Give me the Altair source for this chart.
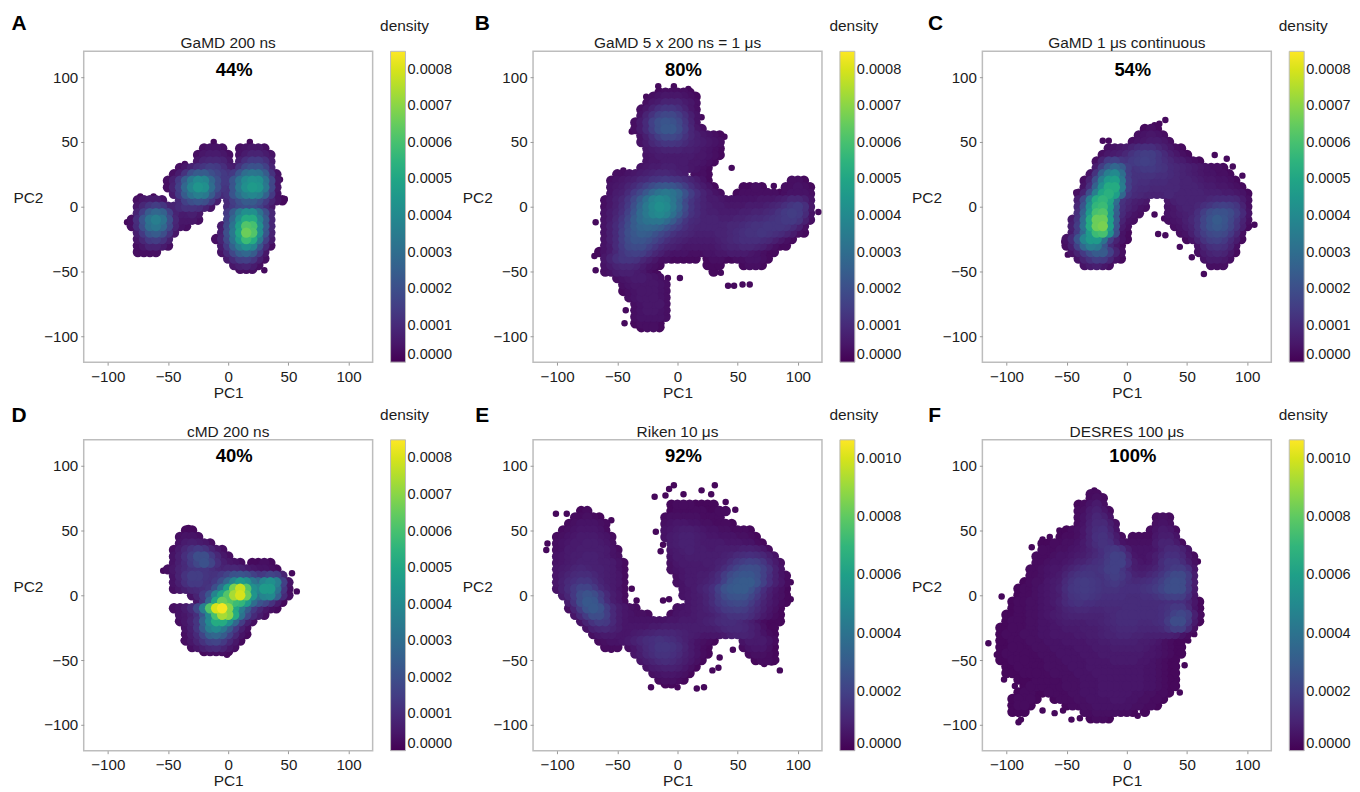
import altair as alt
import pandas as pd

# Densities are in units of 1e-5, read by eye. Each row: (PC2, first PC1, values at 5-unit PC1 steps)
A_ROWS = [
 (45,-20,[3,4,4,3]),(45,10,[3,4,5,5,3]),
 (40,-25,[3,5,6,6,5,3]),(40,10,[4,6,8,8,6,4]),
 (35,-25,[5,8,9,9,8,5]),(35,10,[7,11,14,14,11,6]),
 (30,-40,[3,5,8,11,13,15,14,11,7]),(30,5,[6,12,18,21,21,16,8]),
 (25,-45,[3,6,12,20,24,24,20,17,14,12,14,22,30,33,32,24,12,4]),
 (20,-50,[3,7,14,24,34,40,38,28,20,14,14,22,32,40,43,42,32,18,5]),
 (15,-50,[3,8,16,28,38,44,42,30,20,13,12,22,34,42,46,44,34,18,5]),
 (10,-45,[6,14,24,32,36,34,24,15,10,12,22,30,36,39,36,26,14,4]),
 (5,-75,[3,5,6,6,4]),(5,-40,[9,16,20,22,20,14,7]),(5,0,[10,15,20,24,24,20,14,8,4,2]),
 (0,-75,[5,9,13,15,13,8,8,10,12,12,11,8,4]),(0,0,[10,14,18,20,20,16,10,5]),
 (-5,-75,[8,15,24,28,26,16,8,6,6,7,5]),(-5,0,[14,24,35,42,42,32,20,9]),
 (-10,-80,[3,11,22,32,36,32,20,9,5,5,5,3]),(-10,0,[16,28,42,52,52,38,24,9]),
 (-15,-80,[3,10,20,30,33,28,18,8,4,3]),(-15,-5,[6,18,32,48,62,60,42,24,9]),
 (-20,-75,[7,14,22,24,20,12,5]),(-20,-5,[7,20,34,50,66,62,42,22,8]),
 (-25,-75,[5,9,14,15,12,7]),(-25,-10,[3,8,18,32,46,58,52,34,16,6]),
 (-30,-75,[3,5,8,8,6,3]),(-30,-5,[6,14,26,36,42,38,22,10,3]),
 (-35,-75,[3,3,3,3]),(-35,-5,[4,10,18,25,28,24,14,5]),
 (-40,0,[6,10,15,16,13,7,3]),(-45,5,[5,7,8,6,3]),(-48,10,[3,3,3]),
]
A_STRAY = [(-76,-34,2),(47,6,2),(-84,-12,2),(-12,50,2),(-62,8,2),(-73,8,2),(-36,33,2),(43,21,2),(30,-49,2),(18,50,2)]

B_ROWS = [
 (88,-15,[2,3,3,3,3,2]),(85,-20,[3,4,5,5,5,4,3,2]),(80,-25,[3,5,6,8,8,8,6,5,3]),
 (75,-30,[3,5,8,11,13,13,11,8,5,3]),(70,-30,[4,8,12,16,18,18,15,11,7,4]),
 (65,-35,[3,6,10,16,20,22,21,18,13,8,4]),(60,-35,[3,6,10,15,20,23,23,19,14,9,5,3]),
 (55,-30,[4,7,11,15,18,18,16,12,9,7,5,4,3,2]),(50,-30,[4,6,9,11,13,13,12,10,8,7,6,5,4,3]),
 (45,-25,[5,6,7,8,8,8,7,7,6,5,4,3,2]),(40,-25,[4,5,6,6,6,6,6,6,5,5,4,3,2]),
 (35,-25,[4,5,5,6,6,6,6,5,5,4,3,2]),(30,-30,[4,5,6,6,7,7,6,6,5,4,3,2]),
 (25,-50,[3,3,4]),(25,-35,[5,6,7,8,9,9,8,7,6]),(25,15,[3,3,2]),
 (20,-55,[3,4,5,6,7,9,10,12,13,14,13,12,10,8,6,4,2]),(20,95,[3,3,2]),
 (15,-55,[4,5,6,8,10,13,16,19,22,23,22,19,15,11,8,6,4,2]),(15,55,[2,2,3,2]),(15,90,[3,3,4,3,2]),
 (10,-55,[4,6,7,10,14,18,23,28,32,34,32,28,21,15,11,8,6,4,3]),(10,50,[2,3,3,3,3,3,3,2,3,4,4,4,3]),
 (5,-60,[3,5,7,9,13,18,24,31,37,40,38,33,26,18,13,10,8,6,6,5,4,4,4,4,4,4,5,5,5,6,7,9,9,7,4]),
 (0,-60,[3,5,7,10,14,20,27,34,39,42,40,34,27,19,13,10,8,7,6,6,5,5,5,5,6,6,6,7,8,9,11,13,14,11,5]),
 (-5,-60,[4,6,8,11,16,22,29,34,38,40,37,31,24,17,12,10,8,7,7,6,6,6,6,7,7,8,8,9,10,12,14,15,14,10,4]),
 (-10,-60,[4,6,9,13,18,24,29,32,33,33,29,24,18,13,10,9,8,8,8,7,7,7,8,8,9,10,10,11,12,13,14,14,12,7,3]),
 (-15,-60,[4,7,10,14,19,24,27,28,27,25,21,17,14,11,9,8,8,8,8,8,8,9,9,10,11,12,12,13,13,13,12,10,7,3]),
 (-20,-60,[4,7,10,15,20,23,25,24,21,18,15,12,10,9,8,7,7,7,7,8,8,9,10,11,12,12,13,12,11,10,8,6,3,2]),
 (-25,-60,[4,7,10,15,19,22,22,20,17,14,11,9,8,7,6,6,6,6,6,7,8,9,10,11,11,11,10,9,7,5,3,2]),
 (-30,-60,[4,6,10,14,18,19,19,16,13,10,8,7,6,5,5,5,5,5,5,6,7,8,8,9,9,8,7,5,3,2,2]),
 (-35,-65,[2,4,6,9,13,15,16,15,12,9,7,5,4,4,4,3,3,3,4,4,5,5,6,6,6,5,4,3,2,2]),
 (-40,-60,[5,8,11,13,13,12,9,7,5,3,3,2]),(-40,0,[2,2,2,2]),(-40,25,[2,3,3,2,2]),(-40,50,[3,3,4,4,3,2]),
 (-45,-60,[4,6,8,9,9,8,6,4,3,2]),(-45,25,[2,2,2]),(-45,55,[2,3,3,2]),
 (-50,-60,[3,4,6,7,7,6,5,3,2]),(-50,30,[2]),(-55,-50,[3,4,5,6,6,5,4,3]),
 (-60,-45,[3,4,5,5,5,5,4,3]),(-65,-45,[2,3,4,5,5,5,4,3]),(-70,-40,[3,4,5,5,5,4,3]),
 (-75,-35,[3,4,5,5,5,3]),(-80,-35,[3,4,5,5,4,3]),(-85,-35,[3,4,4,4,4,3]),
 (-90,-35,[2,3,3,3,2]),(-93,-30,[2,3,3,2]),
]
B_STRAY = [(-69,-38,2),(-68,-49,2),(-68,-12,2),(45,30,2),(42,-61,2),(47,-61,2),(54,-60,2),(60,-60,2),
 (-26,85,2),(-16,93,2),(-3,93,2),(9,91,2),(20,69,2),(39,54,2),(-38,58,2),(117,-4,2),(-43,-80,2),(-44,-90,2),
 (-16,-52,2),(-8,-55,2),(2,-55,2),(80,16,2),(75,12,2),(36,-51,2),(-45,28,2)]

C_ROWS = [
 (55,10,[3,4,5,4,3]),(60,15,[2,3,2]),(50,5,[3,4,5,6,6,5,3]),
 (45,-15,[3,4,5,6,8,10,11,11,9,7,5,3,2]),
 (40,-20,[3,5,6,7,9,12,14,15,15,13,10,7,5,3,2]),
 (35,-25,[3,8,14,16,13,12,14,15,16,15,13,11,9,7,6,4,3,2]),
 (30,-25,[6,15,23,28,24,15,12,13,14,14,13,12,10,9,8,7,6,5,4,3,3,2]),
 (25,-30,[4,12,26,36,40,30,15,12,12,12,12,11,11,10,9,8,7,6,5,4,4,3,3,2]),
 (20,-35,[3,8,20,36,46,48,34,16,12,11,11,10,10,10,9,9,8,8,7,6,5,5,4,4,3,2]),
 (15,-35,[4,11,26,42,52,52,36,16,11,10,10,9,9,9,9,9,8,8,8,7,6,6,5,5,4,3,2]),
 (10,-40,[3,8,20,36,50,54,48,28,13,10,9,8,8,8,8,9,8,8,8,8,8,7,7,7,6,6,5,4,2]),
 (5,-40,[7,18,36,52,56,50,30,12,9,7,6,5]),(5,35,[5,7,8,8,8,8,8,9,10,10,10,9,6,3]),
 (0,-40,[9,22,42,56,58,48,26,11,8,6,4,3]),(0,35,[4,5,7,8,8,9,11,13,15,16,15,13,8,3]),
 (-5,-40,[11,26,46,60,62,46,24,10,6,4,3]),(-5,35,[4,5,6,7,8,11,15,19,21,21,19,15,10,4]),
 (-10,-45,[6,13,30,52,66,66,48,24,8,4,3]),(-10,35,[3,4,5,7,9,12,17,21,24,22,18,13,8,3]),
 (-15,-45,[7,15,32,52,66,68,48,22,6,3]),(-15,40,[3,4,6,8,12,17,21,23,21,17,12,7,2]),
 (-20,-45,[6,14,28,46,58,60,42,20,4,2]),(-20,45,[3,4,7,11,15,18,19,18,14,9,3]),
 (-25,-50,[4,10,22,38,46,46,32,16,8,4,2]),(-25,50,[2,4,8,12,15,16,14,10,6,2]),
 (-30,-50,[3,7,16,28,36,34,22,10,5,2]),(-30,60,[4,8,11,12,11,8,3]),
 (-35,-45,[4,8,14,20,24,24,16,8,3]),(-35,60,[3,6,8,9,8,5,2]),
 (-40,-40,[4,8,12,15,14,9,4,2]),(-40,65,[4,6,6,5,3]),
 (-45,-35,[4,6,7,5,3]),(-45,70,[3,3,3]),
]
C_STRAY = [(-52,-27,2),(-49,-37,2),(-14,-44,2),(32,67,2),(27,64,2),(23,63,2),(73,40,2),(83,37,2),(88,31,2),
 (106,-14,2),(64,-52,2),(54,-39,2),(44,-31,2),(26,-21,2),(31,-9,2),(23,-6,2),(32,-22,2),(-20,51,2),(-15,51,2),(96,24,2),(-42,11,2)]

D_ROWS = [
 (50,-35,[2,2]),(45,-40,[3,4,4,3]),(40,-40,[4,6,7,6,5,3]),
 (35,-45,[3,6,9,12,14,12,8,5,3]),(30,-45,[4,7,11,15,20,20,14,9,5,3]),
 (25,-45,[4,7,10,14,18,21,17,11,7,5,4,3]),(25,20,[2,2,3,2]),
 (20,-50,[3,5,8,10,12,13,13,11,9,8,9,9,8,6,5,4,4,3,2]),
 (15,-45,[4,8,12,15,15,13,12,12,14,17,21,22,20,16,13,14,17,15,8]),
 (10,-45,[4,7,11,14,14,12,11,14,20,28,38,46,42,33,28,38,42,36,16,4]),
 (5,-45,[3,5,7,9,10,11,13,20,32,48,68,78,62,42,38,46,46,32,13,3]),
 (0,-30,[4,8,14,22,38,50,62,74,80,66,44,32,38,40,26,10,3]),
 (-5,-25,[5,12,28,50,66,62,58,56,46,30,22,18,12,6,2]),
 (-10,-45,[3,4,6,10,18,36,62,80,84,70,50,36,24,14,9,5,3,2]),
 (-15,-40,[4,5,7,11,22,40,60,74,70,52,32,18,10,6,3]),
 (-20,-40,[3,5,8,13,26,40,52,52,42,28,15,7,3]),
 (-25,-35,[4,7,13,24,36,40,34,24,14,7,3]),
 (-30,-35,[3,6,10,17,26,28,24,16,9,4,2]),
 (-35,-35,[3,5,8,12,16,17,14,9,5,2]),
 (-40,-30,[3,5,7,9,10,8,5,3]),(-43,-20,[2,3,3,3,2]),
]
D_STRAY = [(-54,19,2),(53,17,2),(57,3,2),(-33,52,2),(-1,-46,2),(-37,-35,2)]

E_ROWS = [
 (70,-5,[2,3,3,3,2]),(70,20,[2,2,2]),
 (65,-80,[2,3]),(65,-5,[2,3,3,3,3,3,2,2,3,3]),(60,-85,[3,3,4,3,2]),(60,-10,[3,4,4,4,4,4,3,3,3,3]),
 (55,-90,[3,4,5,5,5,4,3]),(55,-10,[4,5,6,6,5,5,4,4,3,3,3,2]),
 (50,-95,[3,4,5,6,6,6,5,3]),(50,-10,[5,6,7,8,8,7,6,5,5,4,4,3,3,3,2]),
 (45,-100,[3,4,5,6,7,7,7,6,5,3]),(45,-10,[5,7,8,9,9,8,7,6,6,5,5,5,4,4,3,2]),
 (40,-100,[4,5,6,7,7,8,8,7,6,4]),(40,-5,[7,8,9,9,8,7,7,7,7,6,6,6,5,5,3,2]),
 (35,-100,[4,5,7,7,8,8,8,8,7,5,3]),(35,-5,[6,7,8,9,8,8,7,7,8,8,8,8,9,9,8,6,3]),
 (30,-100,[5,6,7,8,8,9,9,8,7,5,4]),(30,-5,[5,7,7,8,8,8,8,8,8,9,10,12,13,14,13,11,8,5]),
 (25,-100,[5,6,7,8,9,9,9,8,8,7,5,3]),(25,-5,[4,6,7,7,7,7,8,8,9,10,13,16,18,20,19,16,11,7,4]),
 (20,-100,[6,7,8,10,11,10,9,9,8,7,5,3]),(20,-5,[4,5,6,7,7,7,7,8,10,13,17,21,24,25,24,20,15,9,5]),
 (15,-100,[6,8,10,12,13,13,11,9,8,7,6,3]),(15,0,[4,6,7,7,8,8,10,13,18,23,26,28,28,25,20,14,9,5,3]),
 (10,-100,[6,9,12,14,16,16,13,10,8,7,6,3]),(10,0,[4,5,7,7,8,9,11,14,20,26,29,30,30,26,20,14,9,6,3]),
 (5,-100,[5,9,13,17,21,21,17,12,9,7,5,3]),(5,5,[5,6,7,9,11,14,20,26,29,30,30,26,20,14,9,6,4,2]),
 (0,-95,[7,11,17,24,27,24,18,12,8,6,3]),(0,5,[5,6,7,8,10,13,18,23,26,27,26,22,17,12,8,5,4,2]),
 (-5,-90,[8,15,24,29,28,20,13,8,6,3]),(-5,10,[6,7,8,10,13,17,20,22,23,22,18,14,10,7,5,3,2]),
 (-10,-90,[4,10,18,26,29,26,18,12,8,6,4,3]),(-10,0,[4,5,6,7,8,9,11,14,17,18,19,18,15,12,9,6,4,2]),
 (-15,-85,[6,12,18,24,24,19,12,8,6,5,4,4,3]),(-15,-5,[3,5,6,6,7,8,8,9,11,13,15,15,15,13,10,7,5,3,2]),
 (-20,-80,[5,10,15,18,17,12,8,6,5,5,5,5,5,5,5,6,6,7,7,7,8,9,10,12,13,13,12,10,8,5,3,2,2,2]),
 (-25,-75,[5,9,11,12,10,8,6,6,6,6,6,7,7,8,8,8,8,8,8,8,8,8,9,11,12,12,11,9,7,4,2,2]),
 (-30,-70,[4,6,7,7,6,6,6,7,8,9,10,11,11,11,10,9,8,7,6,6,6,6,7,9,10,10,9,7,5,3,2]),
 (-35,-65,[3,4,5,5,6,7,9,11,13,14,15,14,13,11,9,7,5,4,3,2]),(-35,55,[5,7,7,7,5,3]),
 (-40,-60,[3,3,3]),(-40,-40,[4,6,9,12,14,16,16,15,13,10,7,5,3,2]),(-40,55,[3,5,6,6,4,2]),
 (-45,-35,[6,8,11,13,15,15,14,12,9,7,5,3,2]),(-45,60,[3,4,4,3,2]),
 (-50,-30,[6,8,10,12,13,12,10,8,6,4,2]),(-50,65,[2,3,3,2]),
 (-55,-25,[5,7,8,9,9,8,6,4,2]),(-60,-20,[4,5,6,6,5,4,2]),(-65,-15,[3,4,4,3,2]),(-68,-10,[2,2]),
]
E_STRAY = [(-101,63,2),(-92,63,2),(-108,40,2),(-109,35,2),(-55,58,2),(-3,85,2),(-7,82,2),(31,85,2),(20,81,2),
 (-19,76,2),(-18,49,2),(-14,34,2),(-12,39,2),(-38,5,2),(-34,-4,2),(-12,-4,2),(-7,-3,2),(94,10,2),(94,-3,2),
 (85,-58,2),(-22,-71,2),(0,-71,2),(16,-72,2),(22,-71,2),(29,-58,2),(34,-56,2),(46,-42,2),(35,-48,2),
 (-10,77,2),(5,78,2),(28,78,2),(40,72,2),(48,66,2),(78,-52,2),(82,-50,2),(72,-53,2),(-55,-42,2)]

F_ROWS = [
 (78,-30,[3,3]),(75,-30,[3,4,3]),(70,-40,[2,3,5,7,4]),(65,-40,[3,4,7,9,6,3]),
 (60,-40,[3,5,8,11,9,5]),(60,25,[3,4,3]),(55,-40,[3,5,9,12,12,8,4]),(55,25,[4,5,4]),
 (50,-50,[2,3,4,6,10,13,14,10,5]),(50,20,[3,5,7,6,3]),
 (45,-55,[2,3,3,4,6,10,14,15,12,7,3]),(45,5,[3,3,3,3]),(45,25,[6,8,8,5]),
 (40,-70,[2,2,3,3,4,4,5,7,10,13,15,14,9,5,4,4,4,4,4,7,10,10,7,3]),
 (35,-70,[3,3,3,4,4,5,6,7,9,11,14,16,17,14,8,5,5,5,5,6,9,12,12,9,5]),
 (30,-75,[3,3,3,4,5,5,6,7,8,10,12,14,17,20,19,12,6,5,5,6,8,11,14,14,11,6,3]),
 (25,-75,[3,3,4,5,5,6,7,9,10,12,14,15,18,20,20,14,8,6,5,6,8,13,16,16,13,8,4]),
 (20,-80,[3,3,4,5,6,6,8,10,12,14,15,15,16,19,20,16,11,8,7,7,8,10,13,16,18,18,14,6]),
 (15,-80,[3,3,4,5,6,7,10,13,15,16,16,15,15,17,19,17,14,10,9,9,11,13,16,20,23,23,18,8]),
 (10,-85,[2,3,4,4,6,7,8,12,15,17,18,17,16,15,16,17,15,13,12,12,13,14,16,19,23,25,24,17,8]),
 (5,-90,[2,3,3,4,5,6,7,9,13,16,17,18,17,16,15,15,15,14,14,14,14,15,16,18,21,24,25,24,17,7]),
 (0,-90,[2,3,3,4,5,6,7,8,12,15,16,17,16,15,14,14,14,14,13,13,13,14,14,15,17,19,20,19,14,6]),
 (-5,-95,[2,3,3,4,4,5,6,7,9,12,14,15,14,14,13,13,13,13,13,13,13,13,13,13,13,13,14,14,14,10,6,2]),
 (-10,-95,[2,3,3,4,4,5,6,6,8,10,11,12,12,11,11,11,12,12,12,13,13,13,13,13,13,14,15,17,17,12,5,2]),
 (-15,-100,[2,2,3,3,4,4,5,6,7,8,9,10,10,10,10,10,10,11,12,13,13,13,13,13,13,13,14,16,20,22,19,9,3]),
 (-20,-100,[2,3,3,3,4,4,5,5,6,7,8,8,8,8,9,9,10,11,12,13,13,13,12,12,12,13,14,18,24,24,17,7,2]),
 (-25,-105,[2,2,3,3,3,4,4,5,5,6,6,7,7,7,8,8,8,9,10,11,12,12,12,11,11,11,11,12,15,19,19,12,4]),
 (-30,-105,[2,3,3,3,4,4,4,5,5,6,6,6,6,7,7,8,8,9,10,10,11,11,10,10,9,9,9,9,9,8,5,3]),
 (-35,-105,[2,2,3,3,3,4,4,4,5,5,5,6,6,6,6,7,7,8,8,9,9,9,9,8,8,7,6,4,3,2,2]),
 (-40,-105,[2,2,3,3,3,3,4,4,4,5,5,5,5,6,6,6,7,7,7,8,8,8,8,8,7,6,5,4,3,2,2]),
 (-45,-105,[2,3,3,3,3,3,3,4,4,4,5,5,5,5,6,6,6,7,7,7,7,7,7,7,6,6,5,4,3,2,2]),
 (-50,-105,[2,2,3,3,3,3,3,3,4,4,4,5,5,5,5,6,6,6,6,7,7,7,7,6,6,5,4,3,2,2]),
 (-55,-100,[2,2,3,3,3,3,3,4,4,4,4,5,5,5,6,6,6,6,6,6,6,6,6,5,5,4,3,2,2]),
 (-60,-100,[2,2,2,3,3,3,3,3,4,4,4,4,5,5,5,6,6,6,6,6,6,6,6,5,5,4,3,2,2]),
 (-65,-90,[2,2,2,3,3,3,3,3,4,4,4,5,5,5,6,6,6,6,6,6,6,5,5,4,3,2,2]),
 (-70,-85,[2,3,3,3,3,3,3,4,4,4,5,5,5,6,6,6,6,6,6,6,5,5,4,3,2,2]),
 (-75,-90,[2,3,3,2]),(-75,-70,[2,3,3,3,3,4,4,5,5,5,6,6,6,6,6,5,5,4,4,3,3,2]),
 (-80,-95,[2,3,3,3,2]),(-80,-60,[2,3,3,3,4,4,5,5,5,5,6,6,5,5,4,4,3,3,2]),
 (-85,-95,[2,3,3,2]),(-85,-50,[2,3,3,4,4,5,5,5,5,5,5,4,4,3,3,2]),
 (-90,-95,[2,2,2]),(-90,-35,[3,3,4,4,4,4,3,3,2]),(-90,15,[2]),(-95,-30,[2,3,3,2]),
]
F_STRAY = [(-115,-37,2),(-104,-1,2),(-79,37,2),(-56,50,2),(-70,-89,2),(-60,-91,2),(-53,-89,2),(-46,-96,2),(-39,-95,2),
 (9,-93,2),(44,-75,2),(48,-54,2),(51,-35,2),(-93,-70,2),(-102,-65,2),(-108,-46,2),(59,26,2),(-27,81,2),(-90,-98,2),
 (-88,-96,2),(56,-30,2),(-70,43,2),(-64,45,2),(62,-15,2)]

TITLES = ["GaMD 200 ns", "GaMD 5 x 200 ns = 1 \u03bcs", "GaMD 1 \u03bcs continuous",
          "cMD 200 ns", "Riken 10 \u03bcs", "DESRES 100 \u03bcs"]
PERCENTS = ["44%", "80%", "54%", "40%", "92%", "100%"]
LETTERS = ["A", "B", "C", "D", "E", "F"]
LETTER_X = [-65, -51, -47, -65, -51, -48]
LETTER_Y = [-27, -27, -27, -24, -24, -24]
PERCENT_Y = [19, 19, 19, 16, 16, 16]
COLOR_MAX = [0.000851, 0.000851, 0.000851, 0.000851, 0.001064, 0.001064]
TICKS_A = [0, .0001, .0002, .0003, .0004, .0005, .0006, .0007, .0008]
TICKS_B = [0, .0002, .0004, .0006, .0008, .0010]
COLOR_TICKS = [TICKS_A, TICKS_A, TICKS_A, TICKS_A, TICKS_B, TICKS_B]
ROWS = [A_ROWS, B_ROWS, C_ROWS, D_ROWS, E_ROWS, F_ROWS]
STRAYS = [A_STRAY, B_STRAY, C_STRAY, D_STRAY, E_STRAY, F_STRAY]
AXIS_TICKS = [-100, -50, 0, 50, 100]

FONT = "Liberation Sans"
INK = "#1c1c1c"


def table(rows, step):
    out = []
    for y, x0, vals in rows:
        for i, v in enumerate(vals):
            out.append({"PC1": x0 + i * step, "PC2": y, "d": v * 1e-5})
    return pd.DataFrame(out).sort_values("d")


def note(text, px, py, size, weight="normal", color=INK):
    return alt.Chart(pd.DataFrame({"t": [text]})).mark_text(
        fontSize=size, fontWeight=weight, color=color, font=FONT).encode(
        x=alt.value(px), y=alt.value(py), text="t:N")


def panel(i):
    x = alt.X("PC1:Q", scale=alt.Scale(domain=[-120, 120], nice=False),
              axis=alt.Axis(title="PC1", values=AXIS_TICKS, grid=False, domain=False, tickSize=3,
                            tickColor="#999999", labelFontSize=15.2, labelColor=INK, labelPadding=4,
                            titleFontSize=15.5, titleFontWeight="normal", titleColor=INK, titleY=30,
                            titleBaseline="middle"))
    y = alt.Y("PC2:Q", scale=alt.Scale(domain=[-120, 120], nice=False),
              axis=alt.Axis(title="PC2", values=AXIS_TICKS, grid=False, domain=False, tickSize=3,
                            tickColor="#999999", labelFontSize=15.2, labelColor=INK, labelPadding=3,
                            titleFontSize=15.5, titleFontWeight="normal", titleColor=INK, titleAngle=0,
                            titleX=-56, titleY=147, titleAlign="center", titleBaseline="middle"))
    c = alt.Color("d:Q", title=None,
                  scale=alt.Scale(scheme="viridis", domain=[0, COLOR_MAX[i]], nice=False),
                  legend=alt.Legend(orient="none", legendX=308, legendY=0, gradientLength=312,
                                    gradientThickness=15, values=COLOR_TICKS[i], format=".4f",
                                    labelFontSize=14.6, labelColor=INK, labelOffset=2,
                                    labelBaseline="middle", gradientStrokeColor="#bbbbbb",
                                    gradientStrokeWidth=1))
    order = alt.Order("d:Q")
    stray = pd.DataFrame(STRAYS[i], columns=["PC1", "PC2", "d"]).assign(d=lambda t: t.d * 1e-5)
    enc = dict(x=x, y=y, color=c, order=order)
    layers = [
        alt.Chart(stray).mark_circle(size=42, opacity=1).encode(**enc),
        alt.Chart(table(ROWS[i], 5)).mark_circle(size=110, opacity=1).encode(**enc),
        note(TITLES[i], 145, -8, 15.5),
        note(PERCENTS[i], 151, PERCENT_Y[i], 18.5, "bold", "#000000"),
        note(LETTERS[i], LETTER_X[i], LETTER_Y[i], 21, "bold", "#000000"),
        note("density", 322, -25, 15.5),
    ]
    return alt.layer(*layers).properties(width=290, height=312)


chart = alt.ConcatChart(concat=[panel(i) for i in range(6)], columns=3,
                        spacing={"row": 78, "column": 161}, bounds="flush")
chart = (chart.resolve_scale(color="independent")
         .configure(font=FONT, padding={"left": 2, "top": 3, "right": 0, "bottom": 0})
         .configure_view(stroke="#bdbdbd", strokeWidth=1.5))

chart.save("out.html", embed_options={"renderer": "svg", "actions": False})
